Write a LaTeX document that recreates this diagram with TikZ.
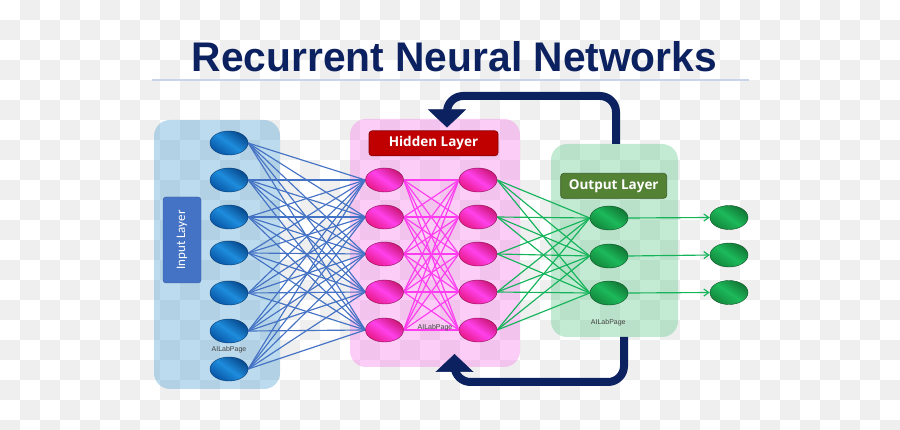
\documentclass[tikz,border=0pt]{standalone}
\usepackage{fontspec}
\setmainfont{Liberation Sans}
\newfontfamily\lblfont{Open Sans}
\newfontfamily\inpfont{Carlito}
\usetikzlibrary{arrows.meta,shapes.geometric}
\definecolor{navy}{RGB}{12,33,96}
\definecolor{checkgray}{RGB}{239,239,239}
\definecolor{inbox}{RGB}{90,165,212}
\definecolor{hidbox}{RGB}{245,130,235}
\definecolor{outbox}{RGB}{105,202,145}
\definecolor{inlab}{RGB}{68,114,196}
\definecolor{hidlab}{RGB}{192,0,0}
\definecolor{outlab}{RGB}{84,130,53}
\definecolor{bdark}{RGB}{8,85,165}
\definecolor{blight}{RGB}{30,140,220}
\definecolor{pdark}{RGB}{232,25,135}
\definecolor{plight}{RGB}{255,65,235}
\definecolor{gdark}{RGB}{20,135,60}
\definecolor{glight}{RGB}{28,185,90}
\definecolor{bline}{RGB}{68,114,196}
\definecolor{pline}{RGB}{255,60,240}
\definecolor{gline}{RGB}{20,180,90}
\definecolor{undl}{RGB}{200,212,232}
\pgfdeclarelayer{bg}
\pgfsetlayers{bg,main}
\tikzset{
  neuron/.style={ellipse, minimum width=38pt, minimum height=24pt, inner sep=0pt},
  inode/.style={neuron, draw=bdark!70!black, line width=0.4pt, top color=bdark, bottom color=bdark!85!black, middle color=blight, shading angle=145},
  hnode/.style={neuron, draw=pdark!60!black, line width=0.4pt, top color=pdark, bottom color=pdark!88!black, middle color=plight, shading angle=145},
  onode/.style={neuron, draw=gdark!60!black, line width=0.4pt, top color=gdark, bottom color=gdark!88!black, middle color=glight, shading angle=145},
  layerbox/.style={rounded corners=16pt, fill opacity=0.4},
  lblbox/.style={rounded corners=3pt, text=white, inner sep=0pt},
  wire/.style={line width=1.15pt},
  recur/.style={navy, line width=8pt, rounded corners=16pt, -{Triangle[width=38pt,length=18pt,line width=0.5pt]}},
  tiny/.style={font=\fontsize{7}{8}\selectfont, text=black!75, inner sep=0pt}
}
\begin{document}
\begin{tikzpicture}[x=1pt,y=-1pt]
\useasboundingbox (0,0) rectangle (900,430);
% title
\node[inner sep=0pt, text=navy] (title) at (454.5,56.5) {\resizebox{525pt}{30pt}{\bfseries Recurrent Neural Networks}};
% input neurons
\foreach \n/\y in {1/143,2/180,3/217,4/253,5/293,6/331,7/369}
  \node[inode] (in\n) at (229,\y) {};
% hidden neurons
\foreach \n/\y in {1/180,2/217,3/254,4/292,5/330}{
  \node[hnode] (ha\n) at (384.5,\y) {};
  \node[hnode] (hb\n) at (478,\y) {};
}
% output neurons
\foreach \n/\y in {1/218,2/256,3/293}
  \node[onode] (o\n) at (609,\y) {};
\foreach \n/\y in {1/217.5,2/255,3/292.5}
  \node[onode] (f\n) at (729,\y) {};
% background layer: checkerboard, boxes, wires
\begin{pgfonlayer}{bg}
  \foreach \j in {0,...,21}{
    \pgfmathtruncatemacro\s{mod(\j+1,2)}
    \foreach \i in {0,...,22}
      \fill[checkgray] ({40*\i+20*\s},{20*\j}) rectangle +(20,20);
  }
  \draw[undl, line width=1.5pt] (152,80) -- (749,80);
  \fill[layerbox, fill=inbox] (154,120) rectangle (280,389);
  \fill[layerbox, fill=hidbox] (350,119) rectangle (520,367);
  \fill[layerbox, fill=outbox] (551,144) rectangle (678,337);
  \foreach \i in {1,...,7}
    \foreach \j in {1,...,5}
      \draw[wire, bline] (in\i.east) -- (ha\j.west);
  \foreach \i in {1,...,5}
    \foreach \j in {1,...,5}
      \draw[wire, pline] (ha\i.east) -- (hb\j.west);
  \foreach \i in {1,...,5}
    \foreach \j in {1,...,3}
      \draw[wire, gline] (hb\i.east) -- (o\j.west);
\end{pgfonlayer}
% output arrows
\foreach \n in {1,2,3}
  \draw[wire, gline, -{Straight Barb[length=5pt,width=7pt]}] (o\n.east) -- (f\n.west);
% labels
\node[lblbox, fill=inlab, draw=inlab!80!black, line width=0.4pt, rotate=90, minimum width=86pt, minimum height=38pt] (ilab) at (182,240) {\inpfont\fontsize{13}{15}\selectfont Input Layer};
\node[lblbox, fill=hidlab, draw=hidlab!70!black, line width=0.6pt, minimum width=129pt, minimum height=25pt] (hlab) at (433.5,143.3) {\lblfont\bfseries\fontsize{13.5}{16}\selectfont Hidden Layer};
\node[lblbox, fill=outlab, draw=outlab!70!black, line width=0.6pt, minimum width=106pt, minimum height=25pt] (olab) at (613.7,185.8) {\lblfont\bfseries\fontsize{13.5}{16}\selectfont Output Layer};
\node[tiny] (w1) at (229,350) {AILabPage};
\node[tiny] (w2) at (435,327.3) {AILabPage};
\node[tiny] (w3) at (608.3,322.7) {AILabPage};
% recurrent arrows
\coordinate (tS) at (616,144);
\coordinate (tE) at (447,127.5);
\draw[recur] (tS) -- (616,96) -- (447,96) -- (tE);
\coordinate (bS) at (624,337);
\coordinate (bE) at (454.5,354);
\draw[recur] (bS) -- (624,382) -- (454.5,382) -- (bE);
\end{tikzpicture}
\end{document}
